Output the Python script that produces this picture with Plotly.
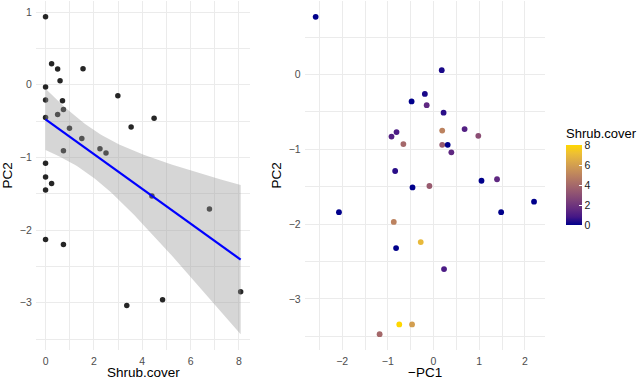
import numpy as np
import plotly.graph_objects as go

# left panel: PC2 against shrub cover
shrub_left = [0, 0.25, 0.5, 1.55, 0.6, 0, 0, 0.7, 0.74, 0.5, 0, 2.99, 0.99, 1.5, 0.74,
              2.25, 2.5, 0, 0, 0.25, 0, 3.54, 4.49, 4.4, 6.78, 0, 0.74, 3.36, 4.84, 8.07]
pc2_left = [0.935, 0.29, 0.216, 0.22, 0.055, -0.03, -0.21, -0.22, -0.34, -0.41, -0.45, -0.15,
            -0.6, -0.74, -0.91, -0.88, -0.94, -1.08, -1.27, -1.36, -1.45, -0.58, -0.46, -1.53,
            -1.71, -2.13, -2.2, -3.04, -2.96, -2.85]

# right panel: -PC1 vs PC2, coloured by shrub cover
neg_pc1 = [-2.58, 0.18, -0.19, -0.48, -0.15, 0.22, 0.19, 0.68, -0.81, -0.92, -0.66, 0.19, 0.31,
           0.39, -0.84, -0.46, -0.09, 0.98, 1.05, 1.39, 2.2, 1.48, -2.07, -0.87, -0.28, -0.82,
           0.23, -0.75, -0.47, -1.18]
pc2_right = [0.77, 0.057, -0.26, -0.36, -0.41, -0.51, -0.75, -0.73, -0.77, -0.83, -0.93, -0.94,
             -0.94, -1.04, -1.29, -1.51, -1.49, -0.82, -1.42, -1.40, -1.70, -1.84, -1.84, -1.97,
             -2.24, -2.32, -2.6, -3.34, -3.34, -3.47]
shrub_right = [0, 0.3, 0.3, 0, 1.5, 0.5, 5, 1.2, 1, 1.2, 4, 3.5, 0, 1.5, 0.5, 0, 3.5, 3, 0, 1.5,
               0, 0, 0, 5, 7, 0, 1, 8.07, 6, 4]

cbar_ticks = [0, 2, 4, 6, 8]

FONT = "Liberation Sans, Arial, sans-serif"
GRID = "#EBEBEB"
TICK_COL = "#4D4D4D"


def hex_to_lab(h):
    rgb = np.array([int(h[i:i + 2], 16) for i in (1, 3, 5)]) / 255
    lin = np.where(rgb <= 0.04045, rgb / 12.92, ((rgb + 0.055) / 1.055) ** 2.4)
    m = np.array([[0.4124, 0.3576, 0.1805], [0.2126, 0.7152, 0.0722], [0.0193, 0.1192, 0.9505]])
    xyz = m @ lin / np.array([0.9505, 1.0, 1.089])
    f = np.where(xyz > 0.008856, np.cbrt(xyz), 7.787 * xyz + 16 / 116)
    return np.array([116 * f[1] - 16, 500 * (f[0] - f[1]), 200 * (f[1] - f[2])])


def lab_to_hex(lab):
    fy = (lab[0] + 16) / 116
    f = np.array([fy + lab[1] / 500, fy, fy - lab[2] / 200])
    xyz = np.where(f ** 3 > 0.008856, f ** 3, (f - 16 / 116) / 7.787) * np.array([0.9505, 1.0, 1.089])
    m = np.array([[3.2406, -1.5372, -0.4986], [-0.9689, 1.8758, 0.0415], [0.0557, -0.2040, 1.0570]])
    lin = np.clip(m @ xyz, 0, 1)
    rgb = np.where(lin <= 0.0031308, 12.92 * lin, 1.055 * lin ** (1 / 2.4) - 0.055)
    return "#" + "".join(f"{int(round(v * 255)):02X}" for v in rgb)


# ggplot-style gradient (interpolated in Lab) from darkblue to gold
lo, hi = hex_to_lab("#00008B"), hex_to_lab("#FFD700")
colorscale = [[t, lab_to_hex(lo + (hi - lo) * t)] for t in np.linspace(0, 1, 11)]

# linear fit with 95% confidence band
x = np.array(shrub_left)
y = np.array(pc2_left)
n = len(x)
slope, intercept = np.polyfit(x, y, 1)
s = np.sqrt(np.sum((y - (intercept + slope * x)) ** 2) / (n - 2))
xs = np.linspace(x.min(), x.max(), 80)
fit = intercept + slope * xs
se = s * np.sqrt(1 / n + (xs - x.mean()) ** 2 / np.sum((x - x.mean()) ** 2))
T_CRIT = 2.048
upper, lower = fit + T_CRIT * se, fit - T_CRIT * se

fig = go.Figure()
fig.add_trace(go.Scatter(x=shrub_left, y=pc2_left, mode="markers",
                         marker=dict(color="rgba(0,0,0,0.85)", size=5.5, line_width=0),
                         xaxis="x", yaxis="y", showlegend=False))
fig.add_trace(go.Scatter(x=np.concatenate([xs, xs[::-1]]), y=np.concatenate([upper, lower[::-1]]),
                         fill="toself", fillcolor="rgba(153,153,153,0.4)", line_width=0,
                         mode="lines", xaxis="x", yaxis="y", showlegend=False))
fig.add_trace(go.Scatter(x=xs, y=fit, mode="lines", line=dict(color="#0000FF", width=2.2),
                         xaxis="x", yaxis="y", showlegend=False))
fig.add_trace(go.Scatter(
    x=neg_pc1, y=pc2_right, mode="markers", xaxis="x2", yaxis="y2", showlegend=False,
    marker=dict(color=shrub_right, colorscale=colorscale, cmin=0, cmax=max(shrub_right),
                size=5.8, line_width=0,
                colorbar=dict(title=dict(text="Shrub.cover", side="top",
                                         font=dict(size=13, color="#000000")),
                              x=566 / 640, xanchor="left", y=(382 - 225) / 382, yanchor="bottom",
                              len=100, lenmode="pixels", thickness=16, thicknessmode="pixels",
                              outlinewidth=0, tickvals=cbar_ticks, ticks="inside",
                              tickcolor="white", ticklen=3, xpad=0, ypad=0,
                              tickfont=dict(size=10.5, color="#1A1A1A"))),
))

x_common = dict(showgrid=True, gridcolor=GRID, gridwidth=1.1, zeroline=False, showline=False,
                ticks="", tickfont=dict(size=10.5, color=TICK_COL), ticklabelstandoff=3,
                automargin=False)

y_dom = [32 / 382, 381 / 382]
lo_y = min(lower.min(), y.min())
hi_y = max(upper.max(), y.max())
pad_y = 0.05 * (hi_y - lo_y)

fig.update_layout(
    width=640, height=382, margin=dict(l=0, r=0, t=0, b=0),
    paper_bgcolor="white", plot_bgcolor="white",
    font=dict(family=FONT, color="#000000"),
    xaxis=dict(domain=[35.8 / 640, 250.4 / 640], range=[-0.4035, 8.4735], tickvals=[0, 2, 4, 6, 8],
               minor=dict(dtick=1, tick0=0, showgrid=True, gridcolor=GRID, gridwidth=0.6),
               anchor="y", **x_common),
    yaxis=dict(domain=y_dom, range=[lo_y - pad_y, hi_y + pad_y], tickvals=[1, 0, -1, -2, -3],
               minor=dict(dtick=0.5, tick0=0, showgrid=True, gridcolor=GRID, gridwidth=0.6),
               anchor="x", **x_common),
    xaxis2=dict(domain=[304.7 / 640, 545 / 640], range=[-2.82, 2.44], tickvals=[-2, -1, 0, 1, 2],
                minor=dict(dtick=0.5, tick0=0, showgrid=True, gridcolor=GRID, gridwidth=0.6),
                anchor="y2", **x_common),
    yaxis2=dict(domain=y_dom, range=[-3.682, 0.982], tickvals=[0, -1, -2, -3],
                minor=dict(dtick=0.5, tick0=0, showgrid=True, gridcolor=GRID, gridwidth=0.6),
                anchor="x2", **x_common),
    annotations=[
        dict(text="Shrub.cover", x=143 / 640, y=(382 - 372) / 382, xref="paper", yref="paper",
             showarrow=False, font=dict(size=13.5), xanchor="center", yanchor="middle"),
        dict(text="\u2212PC1", x=425 / 640, y=(382 - 372) / 382, xref="paper", yref="paper",
             showarrow=False, font=dict(size=13.5), xanchor="center", yanchor="middle"),
        dict(text="PC2", x=7 / 640, y=(382 - 175.5) / 382, xref="paper", yref="paper",
             showarrow=False, font=dict(size=13.5), textangle=-90, xanchor="center", yanchor="middle"),
        dict(text="PC2", x=276 / 640, y=(382 - 175.5) / 382, xref="paper", yref="paper",
             showarrow=False, font=dict(size=13.5), textangle=-90, xanchor="center", yanchor="middle"),
    ],
)

# the page's default body margin would shift the figure by 8px
fig.write_html("out.html", config={"displayModeBar": False},
               post_script="document.body.style.margin = '0';")
